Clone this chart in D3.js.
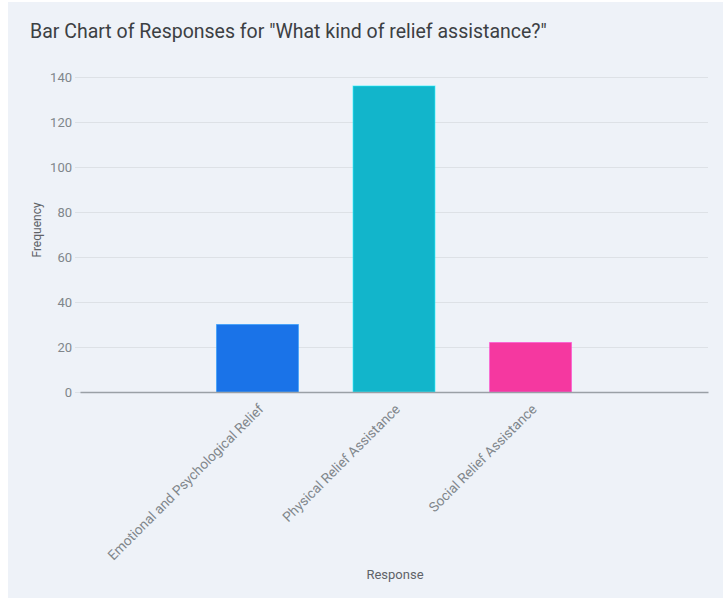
<!DOCTYPE html>
<html>
<head>
<meta charset="utf-8">
<script src="https://cdn.jsdelivr.net/npm/d3@7"></script>
<style>
  html, body { margin: 0; padding: 0; background: #ffffff; }
  svg { display: block; font-family: Roboto, "Noto Sans", sans-serif; }
</style>
</head>
<body>
<svg id="chart" width="723" height="600"></svg>
<script>
// Response categories and their counts
const categories = [
  "Emotional and Psychological Relief",
  "Physical Relief Assistance",
  "Social Relief Assistance"
];
const frequencies = [30, 136, 22];
const barColors = ["#1a73e8", "#12b5cb", "#f538a0"];
const yTicks = [0, 20, 40, 60, 80, 100, 120, 140];

const titleText = 'Bar Chart of Responses for "What kind of relief assistance?"';
const xTitle = "Response";
const yTitle = "Frequency";

const svg = d3.select("#chart");
const W = 723, H = 600;

// Card background
svg.append("rect")
  .attr("x", 8).attr("y", 2)
  .attr("width", W - 8).attr("height", H - 4)
  .attr("fill", "#eef2f8");

const plot = { left: 80, right: 708, top: 77, bottom: 392 };

const x = d3.scaleBand()
  .domain(categories)
  .range([plot.left, plot.right])
  .paddingInner(0.4)
  .paddingOuter(1);

const y = d3.scaleLinear()
  .domain([0, 140])
  .range([plot.bottom, plot.top]);

// Title
svg.append("text")
  .attr("x", 30).attr("y", 38)
  .attr("font-size", 19.5)
  .attr("fill", "#3c4043")
  .text(titleText);

// Horizontal gridlines and y tick labels
const yAxis = d3.axisLeft(y)
  .tickValues(yTicks)
  .tickSize(-(plot.right - plot.left + 5))
  .tickPadding(3)
  .tickFormat(d3.format("d"));

const gy = svg.append("g")
  .attr("transform", `translate(${plot.left - 5},0)`)
  .call(yAxis);
gy.select(".domain").remove();
gy.selectAll(".tick line")
  .attr("stroke", "#dde1e6")
  .attr("stroke-width", 1);
gy.selectAll(".tick text")
  .attr("font-size", 13)
  .attr("fill", "#80868b")
  .attr("font-family", "Roboto, sans-serif");

// Bars
svg.append("g")
  .selectAll("rect")
  .data(categories.map((c, i) => ({ c, v: frequencies[i], col: barColors[i] })))
  .join("rect")
  .attr("x", d => x(d.c))
  .attr("y", d => y(d.v))
  .attr("width", x.bandwidth())
  .attr("height", d => y(0) - y(d.v))
  .attr("fill", d => d.col)
  .attr("stroke", d => d3.color(d.col).brighter(0.8))
  .attr("stroke-opacity", 0.6)
  .attr("stroke-width", 1);

// Baseline and category labels
const xAxis = d3.axisBottom(x).tickSize(0).tickPadding(0);
const gx = svg.append("g")
  .attr("transform", `translate(0,${plot.bottom})`)
  .call(xAxis);
gx.select(".domain")
  .attr("stroke", "#9aa0a6")
  .attr("stroke-width", 1.5);
gx.selectAll(".tick text")
  .attr("font-size", 13.7)
  .attr("fill", "#80868b")
  .attr("font-family", "Roboto, sans-serif")
  .attr("text-anchor", "end")
  .attr("dy", 0)
  .attr("transform", "translate(7,18) rotate(-45)");

// Axis titles
svg.append("text")
  .attr("x", (plot.left + plot.right) / 2 + 1)
  .attr("y", 579)
  .attr("text-anchor", "middle")
  .attr("font-size", 13)
  .attr("fill", "#5f6368")
  .text(xTitle);

svg.append("text")
  .attr("transform", `translate(41,230) rotate(-90)`)
  .attr("text-anchor", "middle")
  .attr("font-size", 12)
  .attr("fill", "#5f6368")
  .text(yTitle);
</script>
</body>
</html>
